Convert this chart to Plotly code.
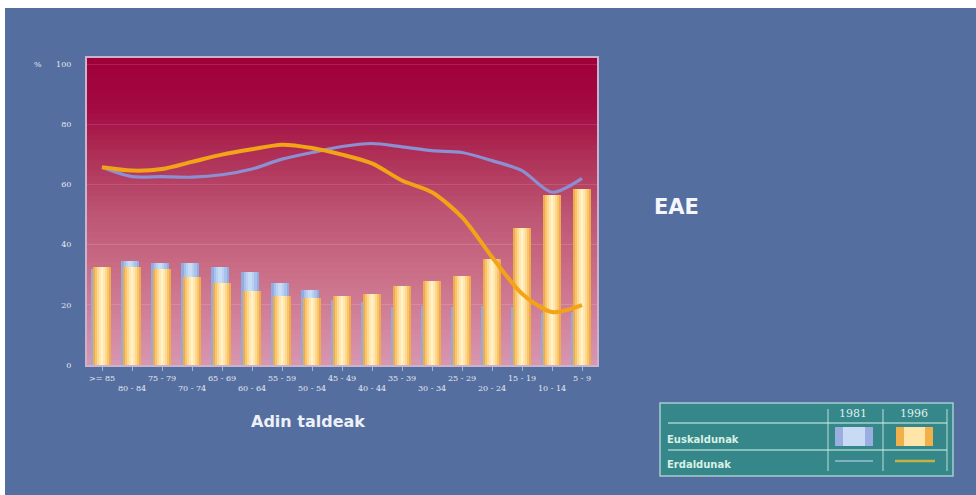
import plotly.graph_objects as go

# Age groups (oldest to youngest) and their axis labels
age_groups = [">= 85", "80 - 84", "75 - 79", "70 - 74", "65 - 69", "60 - 64",
              "55 - 59", "50 - 54", "45 - 49", "40 - 44", "35 - 39", "30 - 34",
              "25 - 29", "20 - 24", "15 - 19", "10 - 14", "5 - 9"]

# Euskaldunak (%), bars
eusk_1981 = [32.0, 34.5, 34.0, 34.0, 32.6, 30.9, 27.3, 25.0, 21.5, 21.0,
             19.3, 19.5, 19.3, 19.5, 19.3, 17.4, 17.5]
eusk_1996 = [32.4, 32.4, 32.0, 29.2, 27.3, 24.6, 22.8, 22.4, 23.0, 23.5,
             26.2, 27.8, 29.7, 35.1, 45.6, 56.6, 58.5]

# Erdaldunak (%), lines
erd_1981 = [65.7, 62.6, 62.6, 62.4, 63.2, 65.1, 68.4, 70.6, 72.6, 73.6,
            72.5, 71.2, 70.6, 67.9, 64.6, 57.4, 62.0]
erd_1996 = [65.7, 64.6, 65.1, 67.5, 69.9, 71.7, 73.2, 72.1, 69.9, 67.0,
            61.3, 57.4, 49.1, 35.9, 23.7, 17.6, 19.9]

y_ticks = [0, 20, 40, 60, 80, 100]

W, H = 976, 495
L, R, T, B = 87, 597, 58, 365          # plot area in pixels
Y_MAX = 102

BG = "#546e9f"
TEXT = "#e4e8f2"


def px(xp):
    return (xp - L) / (R - L)


def py(yp):
    return (B - yp) / (B - T)


def mix(c1, c2, t):
    a = [int(c1[i:i + 2], 16) for i in (1, 3, 5)]
    b = [int(c2[i:i + 2], 16) for i in (1, 3, 5)]
    return "rgb(%d,%d,%d)" % tuple(round(a[k] + (b[k] - a[k]) * t) for k in range(3))


xs = list(range(len(age_groups)))
fig = go.Figure()

# bars shaded across their width by stacking narrower, lighter layers
blue_layers = [(0.60, "#92acdf"), (0.44, "#a7c2ec"), (0.28, "#bad2f2"), (0.12, "#c8dcf5")]
orange_layers = [(0.60, "#eeac4e"), (0.46, "#f8c46c"), (0.32, "#fdd88e"), (0.18, "#ffe7ae"),
                 (0.06, "#fff2cc")]
shift_1981 = -0.06
for w, c in blue_layers:
    fig.add_trace(go.Bar(x=xs, y=eusk_1981, width=w, offset=[shift_1981 - w / 2] * len(xs),
                         marker=dict(color=c, line=dict(width=0)), showlegend=False,
                         hoverinfo="skip"))
for w, c in orange_layers:
    fig.add_trace(go.Bar(x=xs, y=eusk_1996, width=w, offset=[-w / 2] * len(xs),
                         marker=dict(color=c, line=dict(width=0)), showlegend=False,
                         hoverinfo="skip"))

fig.add_trace(go.Scatter(x=xs, y=erd_1981, mode="lines",
                         line=dict(color="#8c8fd2", width=3.2, shape="spline", smoothing=0.8),
                         showlegend=False))
fig.add_trace(go.Scatter(x=xs, y=erd_1996, mode="lines",
                         line=dict(color="#f2a416", width=4, shape="spline", smoothing=0.8),
                         showlegend=False))

shapes = []
# white edge on top and left of the slide
shapes.append(dict(type="rect", xref="paper", yref="paper", x0=px(-5), x1=px(W + 5),
                   y0=py(8), y1=py(-5), fillcolor="white", line=dict(width=0), layer="below"))
shapes.append(dict(type="rect", xref="paper", yref="paper", x0=px(-5), x1=px(5),
                   y0=py(H + 5), y1=py(-5), fillcolor="white", line=dict(width=0), layer="below"))

# vertical gradient inside the plot area: each band runs to the top and the
# next band is painted over it, so no seams show between bands
stops = [(0, "#d897b0"), (15, "#d2829c"), (30, "#cb6f88"), (50, "#bd5674"),
         (70, "#ae2f56"), (85, "#a30a42"), (Y_MAX, "#a0003a")]
n = 60
for i in range(n):
    y0 = Y_MAX * i / n
    ym = Y_MAX * (i + 0.5) / n
    for (a, ca), (b, cb) in zip(stops[:-1], stops[1:]):
        if a <= ym <= b:
            col = mix(ca, cb, (ym - a) / (b - a))
            break
    shapes.append(dict(type="rect", xref="paper", yref="y", x0=0, x1=1, y0=y0, y1=Y_MAX,
                       fillcolor=col, line=dict(width=0), layer="below"))

# legend table
TEAL = "#36878a"
LINE = "rgba(200,235,225,0.75)"
tx0, tx1, ty0, ty1 = 660, 953, 403, 476
shapes.append(dict(type="rect", xref="paper", yref="paper", x0=px(tx0), x1=px(tx1),
                   y0=py(ty1), y1=py(ty0), fillcolor=TEAL,
                   line=dict(color="rgba(190,225,220,0.8)", width=1.5)))
for yy in (423, 450):
    shapes.append(dict(type="line", xref="paper", yref="paper", x0=px(668), x1=px(947),
                       y0=py(yy), y1=py(yy), line=dict(color=LINE, width=1.5)))
for xx in (828, 883, 947):
    shapes.append(dict(type="line", xref="paper", yref="paper", x0=px(xx), x1=px(xx),
                       y0=py(409), y1=py(471), line=dict(color=LINE, width=1.2)))
# bar swatches
for xa, xb, c_edge, c_mid in ((835, 873, "#9aaee0", "#c8daf4"), (896, 933, "#f2b04a", "#ffe6a8")):
    shapes.append(dict(type="rect", xref="paper", yref="paper", x0=px(xa), x1=px(xb),
                       y0=py(446), y1=py(427), fillcolor=c_edge, line=dict(width=0)))
    shapes.append(dict(type="rect", xref="paper", yref="paper", x0=px(xa + 8), x1=px(xb - 8),
                       y0=py(446), y1=py(427), fillcolor=c_mid, line=dict(width=0)))
# line samples
shapes.append(dict(type="line", xref="paper", yref="paper", x0=px(835), x1=px(873),
                   y0=py(461), y1=py(461), line=dict(color="#7fb0c8", width=2)))
shapes.append(dict(type="line", xref="paper", yref="paper", x0=px(895), x1=px(935),
                   y0=py(461), y1=py(461), line=dict(color="#c2b440", width=2.5)))


def label(text, x, y, size, color, family="DejaVu Sans", xanchor="center", weight="normal"):
    return dict(text=text, x=px(x), y=py(y), xref="paper", yref="paper", showarrow=False,
                xanchor=xanchor, yanchor="middle",
                font=dict(size=size, color=color, family=family, weight=weight))


annotations = [
    label("%", 38, 64, 8, TEXT, "DejaVu Serif"),
    label("Adin taldeak", 308, 421, 16, "#eef0f8", weight="bold"),
    label("EAE", 676, 207, 21, "#f4f6fb", weight="bold"),
    label("1981", 853, 413, 11, "#dff0ea", "DejaVu Serif"),
    label("1996", 914, 413, 11, "#dff0ea", "DejaVu Serif"),
    label("Euskaldunak", 665, 439, 10, "#d8f0e4", xanchor="left", weight="bold"),
    label("Erdaldunak", 665, 464, 10, "#d8f0e4", xanchor="left", weight="bold"),
]

# staggered category labels: every second one on a lower line
tick_text = [g if i % 2 == 0 else "<br>" + g for i, g in enumerate(age_groups)]

fig.update_layout(
    width=W, height=H,
    margin=dict(l=L, r=W - R, t=T, b=H - B, pad=0),
    paper_bgcolor=BG, plot_bgcolor="rgba(0,0,0,0)",
    barmode="overlay", bargap=0,
    shapes=shapes, annotations=annotations,
    showlegend=False,
    xaxis=dict(range=[-0.5, len(age_groups) - 0.5], tickmode="array", tickvals=xs,
               ticktext=tick_text, tickangle=0,
               tickfont=dict(size=8, color=TEXT, family="DejaVu Serif"),
               ticks="outside", ticklen=4, tickcolor="rgba(220,225,240,0.6)",
               showgrid=False, zeroline=False, showline=True, mirror=True,
               linecolor="rgba(225,190,215,0.85)", linewidth=2, fixedrange=True),
    yaxis=dict(range=[0, Y_MAX], tickvals=y_ticks, ticktext=[str(v) for v in y_ticks],
               tickfont=dict(size=8, color=TEXT, family="DejaVu Serif"),
               ticks="", ticklabelstandoff=12,
               showgrid=True, gridcolor="rgba(255,255,255,0.13)", gridwidth=1,
               zeroline=False, showline=True, mirror=True,
               linecolor="rgba(225,190,215,0.85)", linewidth=2, fixedrange=True),
)

fig.write_html("out.html", config=dict(displayModeBar=False))
